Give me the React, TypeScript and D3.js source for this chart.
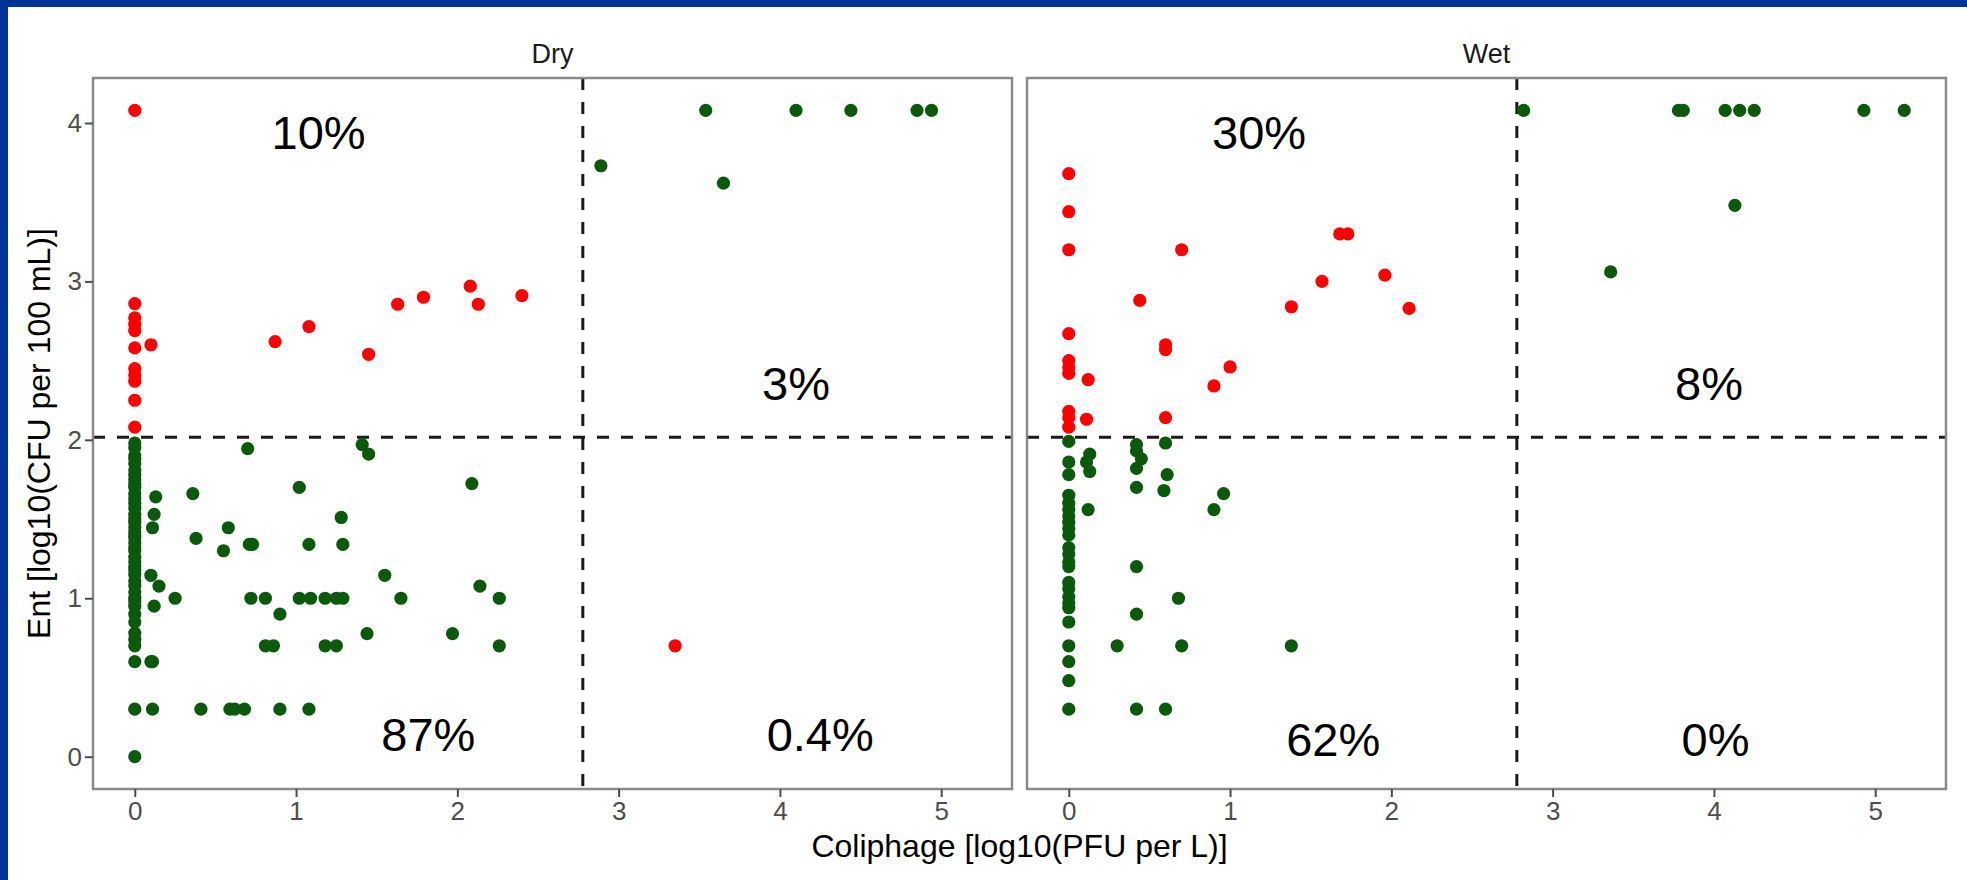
import React, { useEffect, useRef } from 'react';
import * as d3 from 'd3';

// facet names
const panels = ['Dry', 'Wet'];

// [coliphage log10 PFU/L, ent log10 CFU/100mL]
const dryPoints: [number, number][] = [
  [0, 4.08], [0, 2.86], [0, 2.77], [0, 2.73], [0, 2.69], [0, 2.58], [0, 2.45], [0, 2.41], [0, 2.37], [0, 2.25], [0, 2.08],
  [0.1, 2.6], [0.87, 2.62], [1.08, 2.715], [1.45, 2.54], [1.63, 2.856], [1.79, 2.9], [2.08, 2.97], [2.13, 2.856], [2.4, 2.91],
  [2.89, 3.73], [3.54, 4.08], [3.65, 3.62], [4.1, 4.08], [4.44, 4.08], [4.85, 4.08], [4.94, 4.08],
  [3.35, 0.7],
  [0, 1.98], [0, 1.95], [0, 1.9], [0, 1.88], [0, 1.85], [0, 1.81], [0, 1.78], [0, 1.75], [0, 1.72], [0, 1.7],
  [0, 1.66], [0, 1.63], [0, 1.6], [0, 1.57], [0, 1.53], [0, 1.5], [0, 1.48], [0, 1.45], [0, 1.42], [0, 1.4],
  [0, 1.38], [0, 1.35], [0, 1.32], [0, 1.3], [0, 1.26], [0, 1.23], [0, 1.2], [0, 1.18], [0, 1.15], [0, 1.11],
  [0, 1.08], [0, 1.04], [0, 1.0], [0, 0.98], [0, 0.95], [0, 0.9], [0, 0.85], [0, 0.78], [0, 0.74], [0, 0.7],
  [0, 0.6], [0, 0.3], [0, 0.0],
  [0.13, 1.64], [0.12, 1.53], [0.11, 1.445], [0.1, 1.145], [0.15, 1.077], [0.12, 0.95], [0.1, 0.6], [0.11, 0.6], [0.11, 0.3],
  [0.25, 1.0], [0.36, 1.66], [0.38, 1.378], [0.41, 0.3], [0.58, 1.445], [0.55, 1.3], [0.59, 0.3], [0.62, 0.3], [0.68, 0.3],
  [0.7, 1.945], [0.71, 1.34], [0.73, 1.34], [0.72, 1.0], [0.81, 1.0], [0.81, 0.7], [0.86, 0.7], [0.9, 0.9], [0.9, 0.3],
  [1.02, 1.7], [1.02, 1.0], [1.08, 1.34], [1.09, 1.0], [1.08, 0.3], [1.18, 1.0], [1.18, 0.7], [1.25, 0.7], [1.25, 1.0],
  [1.29, 1.0], [1.28, 1.51], [1.29, 1.34], [1.41, 1.97], [1.45, 1.91], [1.44, 0.777], [1.55, 1.145], [1.65, 1.0],
  [1.97, 0.777], [2.09, 1.724], [2.14, 1.077], [2.26, 1.0], [2.26, 0.7],
];

const wetPoints: [number, number][] = [
  [0, 3.68], [0, 3.44], [0, 3.2], [0, 2.67], [0, 2.5], [0, 2.46], [0, 2.42], [0, 2.18], [0, 2.14], [0, 2.08],
  [0.12, 2.38], [0.11, 2.13], [0.44, 2.88], [0.6, 2.6], [0.6, 2.57], [0.6, 2.14], [0.7, 3.2], [0.9, 2.34], [1.0, 2.46],
  [1.38, 2.84], [1.57, 3.0], [1.68, 3.3], [1.73, 3.3], [1.96, 3.04], [2.11, 2.83],
  [2.82, 4.08], [3.78, 4.08], [3.81, 4.08], [4.07, 4.08], [4.16, 4.08], [4.25, 4.08], [4.93, 4.08], [5.18, 4.08],
  [4.13, 3.48], [3.36, 3.06],
  [0, 1.99], [0, 1.86], [0, 1.78], [0, 1.65], [0, 1.6], [0, 1.56], [0, 1.52], [0, 1.48], [0, 1.44], [0, 1.4],
  [0, 1.32], [0, 1.28], [0, 1.23], [0, 1.2], [0, 1.1], [0, 1.06], [0, 1.01], [0, 0.97], [0, 0.94], [0, 0.85],
  [0, 0.7], [0, 0.6], [0, 0.48], [0, 0.3],
  [0.13, 1.91], [0.11, 1.86], [0.13, 1.8], [0.12, 1.56], [0.3, 0.7], [0.42, 1.97], [0.42, 1.93], [0.45, 1.88],
  [0.42, 1.82], [0.42, 1.7], [0.42, 1.2], [0.42, 0.9], [0.42, 0.3], [0.6, 1.98], [0.61, 1.78], [0.59, 1.68],
  [0.6, 0.3], [0.68, 1.0], [0.7, 0.7], [0.9, 1.56], [0.96, 1.66], [1.38, 0.7],
];

// thresholds (log10 600 PFU/L, log10 104 CFU/100mL)
const colThreshold = 2.778;
const entThreshold = 2.017;

// quadrant percentages: upper-left, upper-right, lower-left, lower-right
const dryPct = ['10%', '3%', '87%', '0.4%'];
const wetPct = ['30%', '8%', '62%', '0%'];
const dryPctX = [1.14, 4.1, 1.82, 4.25];
const dryPctY = [3.94, 2.36, 0.14, 0.14];
const wetPctX = [1.18, 3.97, 1.64, 4.01];
const wetPctY = [3.94, 2.36, 0.11, 0.11];

const xTicks = [0, 1, 2, 3, 4, 5];
const yTicks = [0, 1, 2, 3, 4];

const App = () => {
  const svgRef = useRef<SVGSVGElement>(null);

  useEffect(() => {
    const svg = d3.select(svgRef.current);
    svg.selectAll('*').remove();

    const width = 1967;
    const height = 880;
    const top = 78;
    const bottom = 789;
    const panelLeft = [93, 1027];
    const panelW = 919;
    const font = '"Liberation Sans", Arial, sans-serif';

    svg.append('rect').attr('width', width).attr('height', height).attr('fill', '#fff');
    svg.append('rect').attr('width', width).attr('height', 7).attr('fill', '#00339a');
    svg.append('rect').attr('width', 8).attr('height', height).attr('fill', '#00339a');

    const allPts = dryPoints.concat(wetPoints);
    const xExt = d3.extent(allPts, d => d[0]) as [number, number];
    const yExt = d3.extent(allPts, d => d[1]) as [number, number];
    const xPad = (xExt[1] - xExt[0]) * 0.05;
    const yPad = (yExt[1] - yExt[0]) * 0.05;

    const y = d3.scaleLinear()
      .domain([yExt[0] - yPad, yExt[1] + yPad])
      .range([bottom, top]);

    const sets = [
      { pts: dryPoints, pct: dryPct, px: dryPctX, py: dryPctY },
      { pts: wetPoints, pct: wetPct, px: wetPctX, py: wetPctY },
    ];

    panels.forEach((name, pi) => {
      const left = panelLeft[pi];
      const x = d3.scaleLinear()
        .domain([xExt[0] - xPad, xExt[1] + xPad])
        .range([left, left + panelW]);
      const g = svg.append('g');
      const s = sets[pi];

      // strip label
      g.append('text')
        .attr('x', left + panelW / 2).attr('y', 63)
        .attr('text-anchor', 'middle')
        .attr('font-family', font).attr('font-size', 27)
        .attr('fill', '#1a1a1a')
        .text(name);

      // threshold lines
      g.append('line')
        .attr('x1', left).attr('x2', left + panelW)
        .attr('y1', y(entThreshold)).attr('y2', y(entThreshold))
        .attr('stroke', '#1a1a1a').attr('stroke-width', 3).attr('stroke-dasharray', '12,12');
      g.append('line')
        .attr('x1', x(colThreshold)).attr('x2', x(colThreshold))
        .attr('y1', top).attr('y2', bottom)
        .attr('stroke', '#1a1a1a').attr('stroke-width', 3).attr('stroke-dasharray', '12,12');

      // points
      g.append('g')
        .selectAll('circle')
        .data(s.pts)
        .enter()
        .append('circle')
        .attr('cx', d => x(d[0]))
        .attr('cy', d => y(d[1]))
        .attr('r', 6.6)
        .attr('fill', d => ((d[0] > colThreshold) !== (d[1] > entThreshold) ? '#ff0000' : '#0b5a0b'));

      // quadrant labels
      g.append('g')
        .selectAll('text')
        .data(s.pct)
        .enter()
        .append('text')
        .attr('x', (d, i) => x(s.px[i]))
        .attr('y', (d, i) => y(s.py[i]))
        .attr('dy', '0.36em')
        .attr('text-anchor', 'middle')
        .attr('font-family', font).attr('font-size', 47)
        .attr('fill', '#000')
        .text(d => d);

      // panel border
      g.append('rect')
        .attr('x', left).attr('y', top)
        .attr('width', panelW).attr('height', bottom - top)
        .attr('fill', 'none').attr('stroke', '#8a8a8a').attr('stroke-width', 2.5);

      // x axis
      const xa = g.append('g').attr('transform', `translate(0,${bottom})`)
        .call(d3.axisBottom(x).tickValues(xTicks).tickSize(8).tickPadding(5).tickFormat(d3.format('d')));
      xa.select('.domain').remove();
      xa.selectAll('line').attr('stroke', '#4d4d4d').attr('stroke-width', 2);
      xa.selectAll('text').attr('font-family', font).attr('font-size', 26).attr('fill', '#4d4d4d');

      if (pi === 0) {
        const ya = g.append('g').attr('transform', `translate(${left},0)`)
          .call(d3.axisLeft(y).tickValues(yTicks).tickSize(8).tickPadding(3).tickFormat(d3.format('d')));
        ya.select('.domain').remove();
        ya.selectAll('line').attr('stroke', '#4d4d4d').attr('stroke-width', 2);
        ya.selectAll('text').attr('font-family', font).attr('font-size', 26).attr('fill', '#4d4d4d');
      }
    });

    // axis titles
    svg.append('text')
      .attr('x', (panelLeft[0] + panelLeft[1] + panelW) / 2).attr('y', 857)
      .attr('text-anchor', 'middle')
      .attr('font-family', font).attr('font-size', 32)
      .attr('fill', '#000')
      .text('Coliphage [log10(PFU per L)]');
    svg.append('text')
      .attr('transform', `translate(50,${(top + bottom) / 2}) rotate(-90)`)
      .attr('text-anchor', 'middle')
      .attr('font-family', font).attr('font-size', 32)
      .attr('fill', '#000')
      .text('Ent [log10(CFU per 100 mL)]');
  }, []);

  return (
    <svg ref={svgRef} width={1967} height={880} viewBox="0 0 1967 880"
      style={{ position: 'absolute', left: 0, top: 0 }} />
  );
};

export default App;
